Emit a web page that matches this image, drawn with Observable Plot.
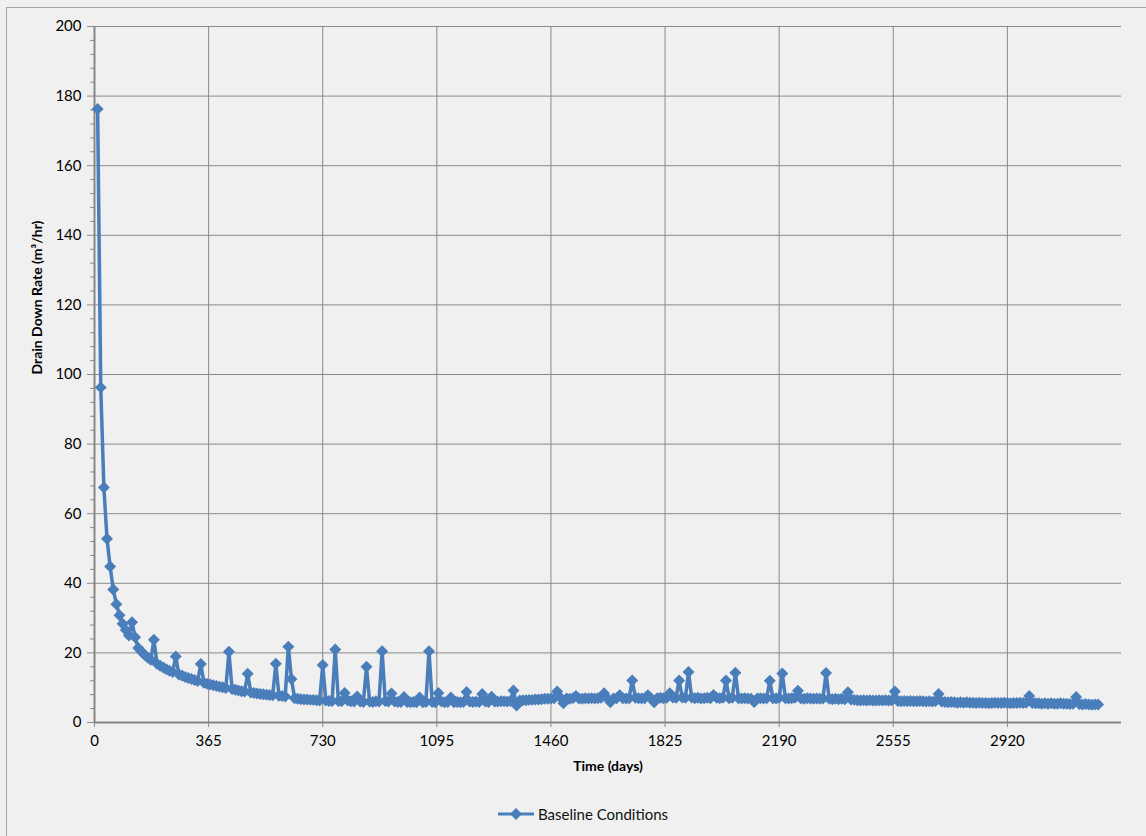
<!DOCTYPE html>
<html><head><meta charset="utf-8">
<script src="https://cdn.jsdelivr.net/npm/d3@7"></script>
<script src="https://cdn.jsdelivr.net/npm/@observablehq/plot@0.6"></script>
<style>
body{margin:0;background:#f0f0f0;font-family:Lato,"Open Sans",sans-serif;overflow:hidden;}
#frame{position:absolute;left:6px;top:7px;width:1150px;height:840px;border:1px solid #a6a6a6;pointer-events:none;}
#chart{position:absolute;left:0;top:0;}
#legend{position:absolute;top:805px;left:497px;display:flex;align-items:center;font-size:15px;color:#111;}
#legend svg{margin-right:3px;}
</style></head><body>
<div id="chart"></div>
<div id="legend"></div>
<div id="frame"></div>
<script>
// Regular sampling of the model output (days)
const startDay = 10;
const stepDays = 10;
// Drain down rate (m3/hr), one value per time step
const drainRate = [
  176.3, 96.3, 67.5, 52.8, 44.8, 38.2, 34.0, 30.8, 28.4, 26.6,
  25.0, 28.8, 24.5, 21.4, 20.4, 19.5, 18.7, 18.0, 23.8, 16.9,
  16.3, 15.8, 15.3, 14.9, 14.5, 19.0, 13.8, 13.5, 13.1, 12.8,
  12.5, 12.2, 11.9, 16.8, 11.4, 11.1, 10.9, 10.7, 10.5, 10.3,
  10.1, 9.9, 20.3, 9.6, 9.4, 9.2, 9.0, 8.9, 14.0, 8.6,
  8.5, 8.3, 8.2, 8.1, 8.0, 7.9, 7.8, 16.9, 7.7, 7.6,
  7.5, 21.8, 12.5, 7.0, 6.8, 6.7, 6.6, 6.6, 6.5, 6.5,
  6.4, 6.3, 16.5, 6.3, 6.2, 6.2, 21.0, 6.2, 6.1, 8.5,
  6.3, 6.1, 6.0, 7.5, 6.0, 5.9, 16.0, 6.0, 5.9, 6.1,
  6.0, 20.5, 6.2, 6.0, 8.3, 6.0, 5.9, 5.9, 7.3, 5.9,
  5.8, 5.9, 5.8, 7.2, 5.8, 5.9, 20.5, 5.9, 5.8, 8.5,
  6.0, 5.8, 5.9, 7.2, 5.8, 5.9, 5.8, 5.9, 8.8, 6.0,
  5.9, 6.0, 5.9, 8.2, 6.0, 5.9, 7.4, 6.0, 6.0, 6.1,
  6.1, 6.0, 6.2, 9.2, 4.9, 6.3, 6.4, 6.4, 6.5, 6.5,
  6.6, 6.6, 6.7, 6.8, 6.8, 6.9, 7.0, 8.9, 7.2, 5.5,
  6.9, 6.8, 7.0, 7.6, 6.9, 6.8, 7.0, 6.9, 7.0, 6.9,
  7.0, 7.1, 8.4, 7.0, 5.8, 6.9, 7.0, 7.8, 7.0, 6.9,
  7.0, 12.1, 7.1, 7.0, 6.9, 7.0, 7.8, 7.0, 5.8, 7.0,
  7.1, 7.0, 7.1, 8.4, 7.2, 7.1, 12.1, 7.2, 7.1, 14.5,
  7.2, 7.0, 7.1, 6.9, 7.0, 7.1, 7.0, 7.9, 7.1, 7.0,
  7.1, 12.1, 7.0, 7.1, 14.3, 7.0, 6.9, 7.0, 6.9, 6.8,
  5.9, 6.9, 7.0, 6.9, 7.0, 12.0, 7.0, 6.9, 7.1, 14.1,
  7.0, 6.9, 7.0, 7.1, 9.1, 6.9, 6.8, 7.0, 6.9, 6.8,
  6.9, 6.8, 6.9, 14.2, 6.8, 6.7, 6.8, 6.7, 6.8, 6.7,
  8.7, 6.6, 6.5, 6.4, 6.3, 6.4, 6.3, 6.4, 6.3, 6.3,
  6.4, 6.3, 6.4, 6.3, 6.4, 8.9, 6.2, 6.1, 6.2, 6.1,
  6.2, 6.1, 6.1, 6.2, 6.1, 6.0, 6.1, 6.0, 6.2, 8.2,
  6.0, 5.9, 5.8, 5.9, 5.8, 5.7, 5.8, 5.7, 5.8, 5.7,
  5.7, 5.6, 5.7, 5.6, 5.6, 5.5, 5.6, 5.7, 5.6, 5.6,
  5.7, 5.6, 5.5, 5.6, 5.6, 5.7, 5.6, 5.7, 7.6, 5.6,
  5.5, 5.5, 5.4, 5.5, 5.4, 5.5, 5.4, 5.4, 5.5, 5.4,
  5.4, 5.3, 5.4, 7.3, 5.3, 5.2, 5.3, 5.2, 5.1, 5.2,
  5.2
];
const xTicks = [0, 365, 730, 1095, 1460, 1825, 2190, 2555, 2920];
const xMax = 3285;
const yTicks = [0, 20, 40, 60, 80, 100, 120, 140, 160, 180, 200];
const yMinorTicks = [4, 8, 12, 16, 24, 28, 32, 36, 44, 48, 52, 56, 64, 68, 72, 76, 84, 88, 92, 96,
  104, 108, 112, 116, 124, 128, 132, 136, 144, 148, 152, 156, 164, 168, 172, 176, 184, 188, 192, 196];
const seriesName = "Baseline Conditions";
const xTitle = "Time (days)";
const yTitle = "Drain Down Rate (m³/hr)";
const lineColor = "#4a7ebb";

const data = drainRate.map((v, i) => ({day: startDay + i * stepDays, rate: v}));

const chart = Plot.plot({
  width: 1146,
  height: 790,
  marginTop: 26,
  marginBottom: 68,
  marginLeft: 94,
  marginRight: 25,
  style: {background: "transparent", fontFamily: "Lato, 'Open Sans', sans-serif", fontSize: "15px", color: "#000"},
  x: {domain: [0, xMax], label: null},
  y: {domain: [0, 200], label: null},
  marks: [
    Plot.gridX(xTicks, {stroke: "#8a8a8a", strokeOpacity: 1}),
    Plot.gridY(yTicks, {stroke: "#8a8a8a", strokeOpacity: 1}),
    Plot.axisY(yMinorTicks, {tickSize: 4, tickFormat: () => "", stroke: "#8a8a8a", label: null}),
    Plot.axisY(yTicks, {tickSize: 7, tickPadding: 6, stroke: "#8a8a8a", fill: "#000", fontSize: 15, tickFormat: d => String(d), label: null}),
    Plot.axisX(xTicks, {tickSize: 5, tickPadding: 8, stroke: "#8a8a8a", fill: "#000", fontSize: 15, tickFormat: d => String(d), label: null}),
    Plot.ruleY([0], {stroke: "#868686", strokeWidth: 2}),
    Plot.ruleX([0], {stroke: "#868686", strokeWidth: 2}),
    Plot.line(data, {x: "day", y: "rate", stroke: lineColor, strokeWidth: 3.5}),
    Plot.dot(data, {x: "day", y: "rate", symbol: "diamond2", r: 5.4, fill: lineColor, stroke: "none"}),
    Plot.text([xTitle], {frameAnchor: "bottom", dy: 48, fontWeight: "bold", fontSize: 14, fill: "#000"}),
    Plot.text([yTitle], {frameAnchor: "left", dx: -57, rotate: -90, fontWeight: "bold", fontSize: 14, fill: "#000"})
  ]
});
document.getElementById("chart").appendChild(chart);

document.getElementById("legend").innerHTML =
  `<svg width="38" height="14"><line x1="1" x2="37" y1="7" y2="7" stroke="${lineColor}" stroke-width="3"/>` +
  `<path d="M19,1L25,7L19,13L13,7Z" fill="${lineColor}"/></svg><span>${seriesName}</span>`;
</script>
</body></html>
